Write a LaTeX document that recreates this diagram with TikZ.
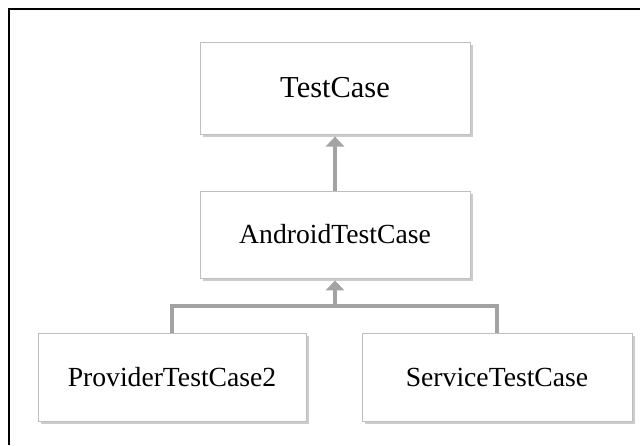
\documentclass[tikz,border=0pt]{standalone}
\usepackage{fontspec}
\setmainfont{Liberation Serif}
\usepackage{tikz}
\usetikzlibrary{calc,arrows.meta,shadows}
\definecolor{linkgray}{HTML}{A3A3A3}
\definecolor{boxgray}{HTML}{BFBFBF}
\tikzset{
  clsbox/.style={draw=boxgray, line width=0.5pt, fill=white, minimum width=8.1cm,
                 minimum height=2.64cm, inner sep=0pt,
                 drop shadow={opacity=0.4, shadow xshift=2.5pt, shadow yshift=-2.5pt},
                 font=\fontsize{23.6}{28}\selectfont},
  link/.style={draw=linkgray, line width=3pt},
  inherit/.style={link, -{Triangle[width=0.55cm,length=0.3cm]}, shorten >=2pt},
  frame/.style={line width=1.5pt},
  }

\begin{document}
\begin{tikzpicture}[scale=1.0]
  \useasboundingbox (0,0) rectangle (19.2,13.35);

  % outer frame (only top and left show)
  \coordinate (fcorner) at (0.28,13.08);
  \draw[frame] (19.2,13.08) -- (fcorner) -- (0.28,0);

  % class boxes
  \node[clsbox, minimum height=2.76cm, font=\fontsize{26}{30}\selectfont]
        (tc)   at (10.05,10.71) {TestCase};          % top
  \node[clsbox, minimum height=2.61cm]
        (andr) at (10.05, 6.32) {AndroidTestCase};   % middle
  \node[clsbox, minimum width=8.04cm]
        (prov) at ( 5.16, 2.04) {ProviderTestCase2}; % bottom left
  \node[clsbox]
        (serv) at (14.91, 2.04) {ServiceTestCase};   % bottom right

  % inheritance
  \draw[inherit] (andr.north) -- (tc.south);
  \coordinate (join) at ($(andr.south)+(0,-0.83)$);
  \draw[link] (prov.north) |- (join) -| (serv.north);
  \draw[inherit] (join) -- (andr.south);
\end{tikzpicture}
\end{document}
